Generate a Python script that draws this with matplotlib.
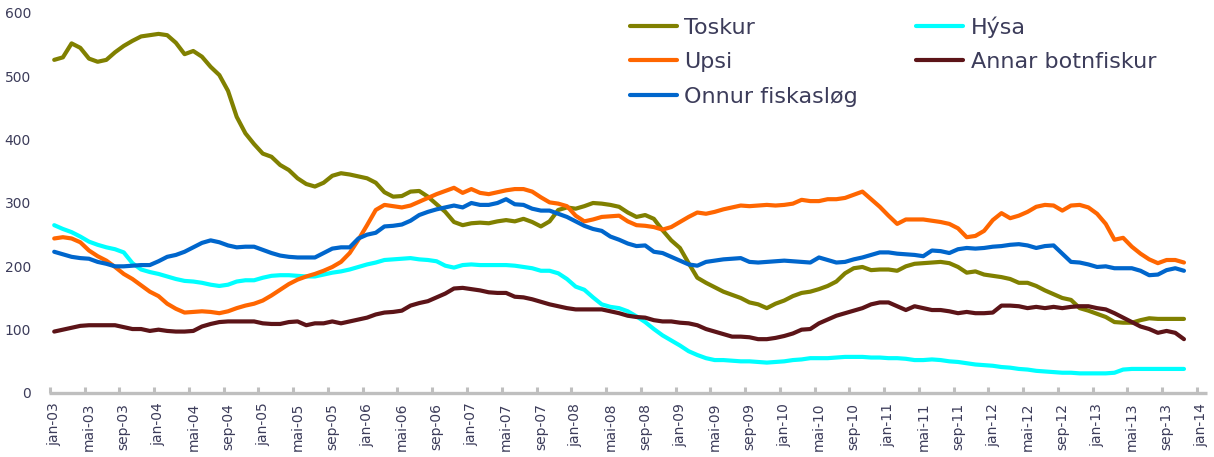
import matplotlib
matplotlib.use("Agg")
import matplotlib.pyplot as plt
import numpy as np

# ---- data (monthly, jan-03 .. nov-13) ----
start_year = 2003
n_months = 131
month_names = ["jan", "feb", "mar", "apr", "mai", "jún", "júl", "ágú", "sep", "okt", "nóv", "des"]

toskur = [526, 530, 552, 545, 528, 523, 526, 538, 548, 556, 563, 565, 567, 565, 553, 535, 540, 531, 515, 502,
          477, 436, 410, 393, 378, 373, 360, 352, 339, 330, 326, 332, 343, 347, 345, 342, 339, 332, 317, 310,
          311, 318, 319, 310, 298, 286, 270, 265, 268, 269, 268, 271, 273, 271, 275, 270, 263, 271, 289, 293,
          291, 295, 300, 299, 297, 294, 285, 278, 281, 275, 257, 241, 229, 205, 182, 174, 167, 160, 155, 150,
          143, 140, 134, 141, 146, 153, 158, 160, 164, 169, 176, 189, 197, 199, 194, 195, 195, 193, 200, 204,
          205, 206, 207, 205, 199, 190, 192, 187, 185, 183, 180, 174, 174, 169, 162, 156, 150, 147, 134, 130,
          125, 120, 112, 111, 111, 115, 118, 117, 117, 117, 117]

hysa = [265, 259, 254, 247, 239, 234, 230, 227, 222, 205, 195, 191, 188, 184, 180, 177, 176, 174, 171, 169,
        171, 176, 178, 178, 182, 185, 186, 186, 185, 184, 184, 187, 190, 192, 195, 199, 203, 206, 210, 211,
        212, 213, 211, 210, 208, 201, 198, 202, 203, 202, 202, 202, 202, 201, 199, 197, 193, 193, 189, 180,
        168, 163, 151, 140, 136, 134, 129, 121, 112, 101, 91, 83, 75, 66, 60, 55, 52, 52, 51, 50,
        50, 49, 48, 49, 50, 52, 53, 55, 55, 55, 56, 57, 57, 57, 56, 56, 55, 55, 54, 52,
        52, 53, 52, 50, 49, 47, 45, 44, 43, 41, 40, 38, 37, 35, 34, 33, 32, 32, 31, 31,
        31, 31, 32, 37, 38, 38, 38, 38, 38, 38, 38]

upsi = [244, 246, 244, 238, 225, 216, 209, 199, 188, 180, 170, 160, 153, 141, 133, 127, 128, 129, 128, 126,
        129, 134, 138, 141, 146, 154, 163, 172, 179, 184, 188, 193, 199, 207, 221, 242, 265, 289, 297, 295,
        293, 296, 302, 308, 314, 319, 324, 316, 322, 316, 314, 317, 320, 322, 322, 318, 309, 301, 299, 295,
        280, 271, 274, 278, 279, 280, 271, 265, 264, 262, 258, 262, 270, 278, 285, 283, 286, 290, 293, 296,
        295, 296, 297, 296, 297, 299, 305, 303, 303, 306, 306, 308, 313, 318, 306, 294, 280, 267, 274, 274,
        274, 272, 270, 267, 260, 246, 248, 256, 273, 284, 276, 280, 286, 294, 297, 296, 288, 296, 297, 293,
        283, 267, 242, 245, 231, 220, 211, 205, 210, 210, 206]

annar = [97, 100, 103, 106, 107, 107, 107, 107, 104, 101, 101, 98, 100, 98, 97, 97, 98, 105, 109, 112,
         113, 113, 113, 113, 110, 109, 109, 112, 113, 107, 110, 110, 113, 110, 113, 116, 119, 124, 127, 128,
         130, 138, 142, 145, 151, 157, 165, 166, 164, 162, 159, 158, 158, 152, 151, 148, 144, 140, 137, 134,
         132, 132, 132, 132, 129, 126, 122, 120, 119, 115, 113, 113, 111, 110, 107, 101, 97, 93, 89, 89,
         88, 85, 85, 87, 90, 94, 100, 101, 110, 116, 122, 126, 130, 134, 140, 143, 143, 137, 131, 137,
         134, 131, 131, 129, 126, 128, 126, 126, 127, 138, 138, 137, 134, 136, 134, 136, 134, 136, 137, 137,
         134, 132, 126, 119, 112, 105, 101, 95, 98, 95, 85]

onnur = [223, 219, 215, 213, 212, 207, 204, 200, 200, 201, 202, 202, 208, 215, 218, 223, 230, 237, 241, 238,
         233, 230, 231, 231, 226, 221, 217, 215, 214, 214, 214, 221, 228, 230, 230, 244, 250, 253, 263, 264,
         266, 272, 281, 286, 290, 293, 296, 293, 300, 297, 297, 300, 306, 298, 297, 291, 288, 288, 283, 278,
         271, 264, 259, 256, 247, 242, 236, 232, 233, 223, 221, 215, 209, 203, 201, 207, 209, 211, 212, 213,
         207, 206, 207, 208, 209, 208, 207, 206, 214, 210, 206, 207, 211, 214, 218, 222, 222, 220, 219, 218,
         216, 225, 224, 221, 227, 229, 228, 229, 231, 232, 234, 235, 233, 229, 232, 233, 220, 207, 206, 203,
         199, 200, 197, 197, 197, 193, 186, 187, 194, 197, 193]

series_names = ["Toskur", "Hýsa", "Upsi", "Annar botnfiskur", "Onnur fiskasløg"]
series_colors = ["#808000", "#00FFFF", "#FF6600", "#5C1418", "#0066CC"]
yticks = [0, 100, 200, 300, 400, 500, 600]

# ---- figure ----
W, H = 1214, 457
fig = plt.figure(figsize=(W / 100, H / 100), dpi=100)
ax = fig.add_axes([49 / W, (H - 393) / H, (1207 - 49) / W, (393 - 13) / H])

months = np.arange(n_months)
all_series = [toskur, hysa, upsi, annar, onnur]
lines = []
for name, vals, col in zip(series_names, all_series, series_colors):
    ln, = ax.plot(months[:len(vals)], vals, color=col, lw=3.0, solid_joinstyle="round",
                  solid_capstyle="round", label=name)
    lines.append(ln)

ax.set_xlim(-0.6, 132.65)
ax.set_ylim(0, 600)

txt_color = "#3C3C5A"
# x ticks: every 4 months, labels at month positions; tick marks between months
lab_pos = np.arange(0, 133, 4)
labels = []
for m in lab_pos:
    yr = start_year + m // 12
    labels.append(f"{month_names[m % 12]}-{yr % 100:02d}")
ax.set_xticks(lab_pos)
ax.set_xticklabels(labels, rotation=90, fontsize=10, color=txt_color, va="top", ha="center")
ax.set_xticks(lab_pos - 0.5, minor=True)
ax.tick_params(axis="x", which="major", length=0, pad=7)
ax.tick_params(axis="x", which="minor", direction="in", length=4, width=2.2, color="#BFBFBF")

ax.set_yticks(yticks)
ax.set_yticklabels([str(v) for v in yticks], fontsize=10, color=txt_color)
ax.tick_params(axis="y", length=0, pad=13)

for s in ["top", "right", "left"]:
    ax.spines[s].set_visible(False)
ax.spines["bottom"].set_color("#BFBFBF")
ax.spines["bottom"].set_linewidth(2.4)
ax.spines["bottom"].set_capstyle("butt")

# legend: column-major order -> [Toskur, Upsi, Onnur] , [Hýsa, Annar]
order = [0, 2, 4, 1, 3]
leg = fig.legend([lines[i] for i in order], [series_names[i] for i in order],
                 loc="upper left", bbox_to_anchor=(630 / W, 1 - 16 / H),
                 bbox_transform=fig.transFigure, ncol=2, frameon=False,
                 fontsize=16, handlelength=2.1, handletextpad=0.35,
                 columnspacing=2.62, labelspacing=0.66, borderpad=0, borderaxespad=0)
for t in leg.get_texts():
    t.set_color(txt_color)

fig.savefig("out.png", dpi=100)
